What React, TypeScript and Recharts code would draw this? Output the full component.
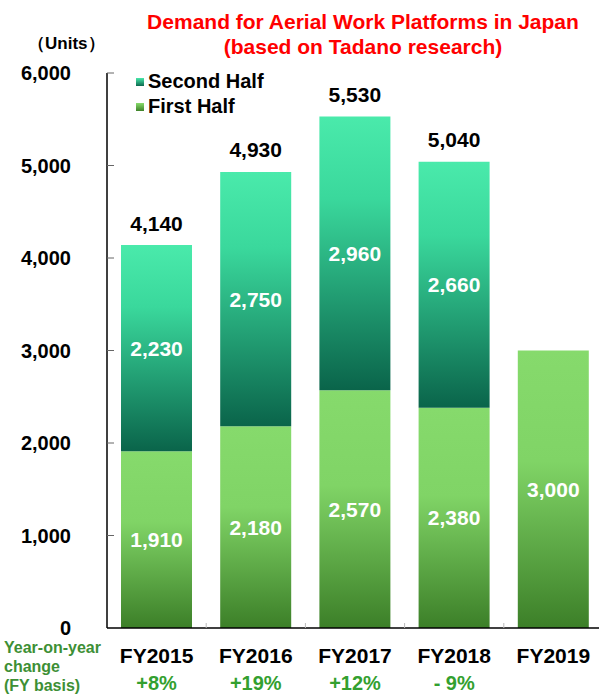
import { BarChart, Bar, XAxis, YAxis, LabelList } from "recharts";

const years = ["FY2015", "FY2016", "FY2017", "FY2018", "FY2019"];
const firstHalf = [1910, 2180, 2570, 2380, 3000];
const secondHalf: (number | null)[] = [2230, 2750, 2960, 2660, null];
const totals: (number | null)[] = [4140, 4930, 5530, 5040, null];
const yoyChange = ["+8%", "+19%", "+12%", "- 9%", ""];
const yTicks = [0, 1000, 2000, 3000, 4000, 5000, 6000];

const data = years.map((year, i) => ({
  year,
  first: firstHalf[i],
  second: secondHalf[i],
  total: totals[i],
  yoy: yoyChange[i],
}));

const FONT = '"Liberation Sans", Arial, sans-serif';
const fmt = (v: number) => v.toLocaleString("en-US");

const YTick = ({ x, y, payload }: any) => (
  <g>
    {payload.value !== 0 && <line x1={x} x2={x + 7} y1={y} y2={y} stroke="#666" strokeWidth={1} />}
    <text
      x={x - 36}
      y={y}
      textAnchor="end"
      dominantBaseline="central"
      fontFamily={FONT}
      fontWeight="bold"
      fontSize={20}
      fill="#000"
    >
      {fmt(payload.value)}
    </text>
  </g>
);

const XTick = ({ x, y, payload, index }: any) => (
  <g>
    {index > 0 && (
      <line x1={x - 49.6} x2={x - 49.6} y1={y - 5} y2={y} stroke="#bbb" strokeWidth={1} />
    )}
    <text
      x={x}
      y={y + 27}
      textAnchor="middle"
      dominantBaseline="central"
      fontFamily={FONT}
      fontWeight="bold"
      fontSize={21}
      fill="#000"
    >
      {payload.value}
    </text>
    <text
      x={x}
      y={y + 55}
      textAnchor="middle"
      dominantBaseline="central"
      fontFamily={FONT}
      fontWeight="bold"
      fontSize={20}
      fill="#33a02f"
    >
      {yoyChange[index]}
    </text>
  </g>
);

const TotalLabel = ({ x, y, width, index }: any) => {
  const t = totals[index];
  if (t == null) return null;
  return (
    <text
      x={x + width / 2}
      y={y - 22}
      textAnchor="middle"
      dominantBaseline="central"
      fontFamily={FONT}
      fontWeight="bold"
      fontSize={21}
      fill="#000"
    >
      {fmt(t)}
    </text>
  );
};

const InnerLabel = ({ x, y, width, height, value }: any) => {
  if (value == null) return null;
  return (
    <text
      x={x + width / 2}
      y={y + height / 2}
      textAnchor="middle"
      dominantBaseline="central"
      fontFamily={FONT}
      fontWeight="bold"
      fontSize={21}
      fill="#fff"
    >
      {fmt(value)}
    </text>
  );
};

export default function App() {
  return (
    <div
      style={{
        position: "absolute",
        left: 0,
        top: 0,
        width: 599,
        height: 695,
        overflow: "hidden",
        background: "#fff",
        fontFamily: FONT,
      }}
    >
      <div
        style={{
          position: "absolute",
          left: 140,
          width: 446,
          top: 9,
          textAlign: "center",
          color: "#ff0000",
          fontWeight: "bold",
          fontSize: 21,
          lineHeight: "25px",
        }}
      >
        Demand for Aerial Work Platforms in Japan
        <br />
        (based on Tadano research)
      </div>
      <div style={{ position: "absolute", left: 28, top: 32, fontWeight: "bold", fontSize: 17 }}>
        （Units）
      </div>

      <div style={{ position: "absolute", left: 136, top: 69, fontWeight: "bold", fontSize: 20, lineHeight: "25px" }}>
        <div style={{ display: "flex", alignItems: "center" }}>
          <span
            style={{
              display: "inline-block",
              width: 8,
              height: 8,
              marginRight: 4,
              background: "linear-gradient(#48e8aa, #0c684e)",
            }}
          />
          Second Half
        </div>
        <div style={{ display: "flex", alignItems: "center" }}>
          <span
            style={{
              display: "inline-block",
              width: 8,
              height: 8,
              marginRight: 4,
              background: "linear-gradient(#88dc6c, #3e8229)",
            }}
          />
          First Half
        </div>
      </div>

      <div
        style={{
          position: "absolute",
          left: 4,
          top: 638,
          color: "#3d8f35",
          fontWeight: "bold",
          fontSize: 16,
          lineHeight: "19px",
        }}
      >
        Year-on-year
        <br />
        change
        <br />
        (FY basis)
      </div>

      <BarChart
        width={610}
        height={695}
        data={data}
        margin={{ top: 73, right: 7, bottom: 0, left: 0 }}
        barSize={71}
      >
        <defs>
          <linearGradient id="gFirst" x1="0" y1="0" x2="0" y2="1">
            <stop offset="0%" stopColor="#86da6c" />
            <stop offset="40%" stopColor="#80d466" />
            <stop offset="100%" stopColor="#3c7f28" />
          </linearGradient>
          <linearGradient id="gSecond" x1="0" y1="0" x2="0" y2="1">
            <stop offset="0%" stopColor="#4aeaab" />
            <stop offset="30%" stopColor="#3ad89c" />
            <stop offset="100%" stopColor="#0a644a" />
          </linearGradient>
        </defs>
        <XAxis
          dataKey="year"
          height={67}
          tickSize={0}
          tickMargin={0}
          tickLine={false}
          axisLine={{ stroke: "#000", strokeWidth: 1.5 }}
          tick={<XTick />}
          interval={0}
        />
        <YAxis
          width={107}
          domain={[0, 6000]}
          ticks={yTicks}
          tickSize={0}
          tickMargin={0}
          tickLine={false}
          axisLine={{ stroke: "#000", strokeWidth: 1.5 }}
          tick={<YTick />}
          interval={0}
        />
        <Bar dataKey="first" stackId="a" fill="url(#gFirst)" isAnimationActive={false}>
          <LabelList dataKey="first" content={<InnerLabel />} />
        </Bar>
        <Bar dataKey="second" stackId="a" fill="url(#gSecond)" isAnimationActive={false}>
          <LabelList dataKey="second" content={<InnerLabel />} />
          <LabelList dataKey="total" content={<TotalLabel />} />
        </Bar>
      </BarChart>
    </div>
  );
}
